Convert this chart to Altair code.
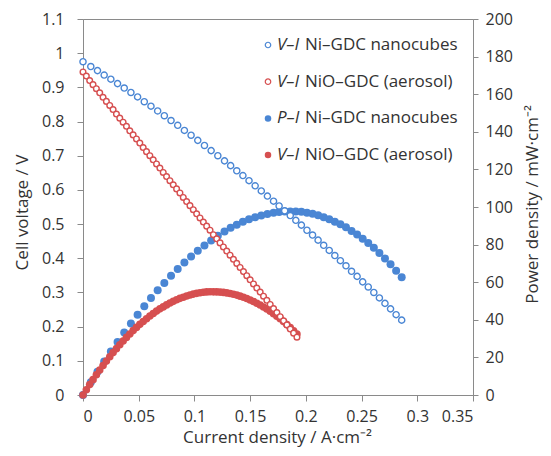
import altair as alt
import pandas as pd

# ---- data ----
# Ni-GDC nanocubes: current density (A/cm2), cell voltage (V), power density (mW/cm2)
blue_i = [0, 0.007, 0.013, 0.019, 0.025, 0.031, 0.037, 0.043, 0.049, 0.055, 0.061, 0.067,
          0.073, 0.079, 0.085, 0.091, 0.097, 0.103, 0.109, 0.115, 0.121, 0.127, 0.1325,
          0.138, 0.1435, 0.149, 0.1545, 0.16, 0.1655, 0.171, 0.176, 0.181, 0.186, 0.191,
          0.196, 0.201, 0.206, 0.211, 0.216, 0.221, 0.226, 0.231, 0.236, 0.241, 0.246,
          0.251, 0.256, 0.261, 0.266, 0.271, 0.276, 0.281, 0.286]
blue_v = [0.975, 0.961, 0.949, 0.936, 0.924, 0.911, 0.898, 0.885, 0.872, 0.858, 0.845, 0.831,
          0.817, 0.803, 0.789, 0.774, 0.760, 0.745, 0.730, 0.715, 0.700, 0.685, 0.671,
          0.656, 0.642, 0.627, 0.612, 0.597, 0.582, 0.567, 0.553, 0.539, 0.525, 0.511,
          0.497, 0.482, 0.468, 0.453, 0.438, 0.423, 0.408, 0.393, 0.378, 0.362, 0.347,
          0.331, 0.316, 0.300, 0.284, 0.268, 0.252, 0.235, 0.219]
blue_p = [0, 6.73, 12.34, 17.78, 23.10, 28.24, 33.23, 38.06, 42.73, 47.19, 51.55, 55.68,
          59.64, 63.44, 67.07, 70.43, 73.72, 76.74, 79.57, 82.23, 84.70, 87.00, 88.91,
          90.53, 92.13, 93.42, 94.55, 95.52, 96.32, 96.96, 97.33, 97.56, 97.65, 97.60,
          97.41, 96.88, 96.41, 95.58, 94.61, 93.48, 92.21, 90.78, 89.21, 87.24, 85.36,
          83.08, 80.90, 78.30, 75.54, 72.63, 69.55, 66.04, 62.63]

# NiO-GDC (aerosol)
red_i = [0, 0.003, 0.006, 0.009, 0.012, 0.015, 0.018, 0.021, 0.024, 0.027, 0.030, 0.033,
         0.036, 0.039, 0.042, 0.045, 0.048, 0.051, 0.054, 0.057, 0.060, 0.063, 0.066,
         0.069, 0.072, 0.075, 0.078, 0.081, 0.084, 0.087, 0.090, 0.093, 0.096, 0.099,
         0.102, 0.105, 0.108, 0.111, 0.114, 0.117, 0.120, 0.123, 0.126, 0.129, 0.132,
         0.135, 0.138, 0.141, 0.144, 0.147, 0.150, 0.153, 0.156, 0.159, 0.162, 0.165,
         0.168, 0.171, 0.174, 0.177, 0.180, 0.183, 0.186, 0.189, 0.192]
red_v = [0.945, 0.933, 0.920, 0.908, 0.896, 0.884, 0.871, 0.859, 0.847, 0.835, 0.822, 0.810,
         0.798, 0.786, 0.773, 0.761, 0.749, 0.737, 0.724, 0.712, 0.700, 0.688, 0.676,
         0.664, 0.651, 0.639, 0.627, 0.615, 0.603, 0.591, 0.578, 0.566, 0.554, 0.542,
         0.530, 0.518, 0.506, 0.494, 0.482, 0.469, 0.457, 0.445, 0.433, 0.421, 0.409,
         0.397, 0.385, 0.373, 0.361, 0.349, 0.337, 0.325, 0.313, 0.301, 0.289, 0.277,
         0.265, 0.253, 0.241, 0.229, 0.217, 0.205, 0.193, 0.181, 0.169]
red_p = [0, 2.80, 5.52, 8.17, 10.75, 13.26, 15.68, 18.04, 20.33, 22.55, 24.66, 26.73,
         28.73, 30.65, 32.47, 34.25, 35.95, 37.59, 39.10, 40.58, 42.00, 43.34, 44.62,
         45.82, 46.87, 47.93, 48.91, 49.82, 50.65, 51.42, 52.02, 52.64, 53.18, 53.66,
         54.06, 54.39, 54.65, 54.83, 54.95, 54.87, 54.84, 54.74, 54.56, 54.31, 53.99,
         53.60, 53.13, 52.59, 51.98, 51.30, 50.55, 49.73, 48.83, 47.86, 46.82, 45.71,
         44.52, 43.26, 41.93, 40.53, 39.06, 37.52, 35.90, 34.21, 32.45]

x_ticks = [0, 0.05, 0.1, 0.15, 0.2, 0.25, 0.3, 0.35]
yl_ticks = [0, 0.1, 0.2, 0.3, 0.4, 0.5, 0.6, 0.7, 0.8, 0.9, 1.0, 1.1]
yr_ticks = [0, 20, 40, 60, 80, 100, 120, 140, 160, 180, 200]

legend_italic = ["V–I", "V–I", "P–I", "V–I"]
legend_rest = ["Ni–GDC nanocubes", "NiO–GDC (aerosol)", "Ni–GDC nanocubes", "NiO–GDC (aerosol)"]

BLUE = "#4a86d4"
RED = "#d64f50"
GREY = "#8a8a8a"
TXT = "#333333"
FONT = "Open Sans"

blue = pd.DataFrame({"I": blue_i, "V": blue_v, "P": blue_p})
red = pd.DataFrame({"I": red_i, "V": red_v, "P": red_p})

W, H = 390, 376

x_enc = alt.X("I:Q", scale=alt.Scale(domain=[0, 0.35], nice=False),
              axis=alt.Axis(values=x_ticks, format=".2~f", grid=False, tickSize=6,
                            labelPadding=7, title="Current density / A·cm⁻²",
                            titleX=194, titleY=47, titleBaseline="alphabetic",
                            titleAlign="center"))

left_axis = alt.Axis(values=yl_ticks, format=".1~f", grid=False, tickSize=6, labelPadding=13,
                     title="Cell voltage / V", titleAngle=270, titleX=-56, titleY=193,
                     titleAlign="center", titleBaseline="alphabetic", orient="left")
right_axis = alt.Axis(values=yr_ticks, grid=False, tickSize=5, labelPadding=7,
                      title="Power density / mW·cm⁻²", titleAngle=270, titleX=64, titleY=185,
                      titleAlign="center", titleBaseline="alphabetic", orient="right")

yl = alt.Y("V:Q", scale=alt.Scale(domain=[0, 1.1], nice=False), axis=left_axis)
yr = alt.Y("P:Q", scale=alt.Scale(domain=[0, 200], nice=False), axis=right_axis)

blue_p_layer = alt.Chart(blue).mark_point(shape="circle", filled=True, color=BLUE,
                                          size=64, opacity=1).encode(x=x_enc, y=yr)
red_p_layer = alt.Chart(red).mark_point(shape="circle", filled=True, color=RED,
                                        size=58, opacity=1).encode(x=x_enc, y=yr)
blue_v_layer = alt.Chart(blue).mark_point(shape="circle", filled=True, fill="white",
                                          stroke=BLUE, strokeWidth=1.4, size=38,
                                          opacity=1).encode(x=x_enc, y=yl)
red_v_layer = alt.Chart(red).mark_point(shape="circle", filled=True, fill="white",
                                        stroke=RED, strokeWidth=1.4, size=32,
                                        opacity=1).encode(x=x_enc, y=yl)

right_layer = alt.layer(blue_p_layer, red_p_layer)
left_layer = alt.layer(blue_v_layer, red_v_layer)

# manual legend (mixed italic text)
one = pd.DataFrame({"k": [0]})
leg_layers = []
leg_colors = [BLUE, RED, BLUE, RED]
leg_open = [True, True, False, False]
for i in range(4):
    yy = 26 + 36.7 * i
    if leg_open[i]:
        sym = alt.Chart(one).mark_point(shape="circle", filled=True, fill="white",
                                        stroke=leg_colors[i], strokeWidth=1.2, size=30,
                                        opacity=1)
    else:
        sym = alt.Chart(one).mark_point(shape="circle", filled=True, color=leg_colors[i],
                                        size=42, opacity=1)
    leg_layers.append(sym.encode(x=alt.value(185), y=alt.value(yy)))
    leg_layers.append(alt.Chart(one).mark_text(text=legend_italic[i], font=FONT, fontSize=17,
                                               fontStyle="italic", align="left",
                                               baseline="middle", color=TXT)
                      .encode(x=alt.value(194), y=alt.value(yy)))
    leg_layers.append(alt.Chart(one).mark_text(text=legend_rest[i], font=FONT, fontSize=17,
                                               align="left", baseline="middle", color=TXT)
                      .encode(x=alt.value(222), y=alt.value(yy)))

chart = alt.layer(right_layer, left_layer, *leg_layers).resolve_scale(
    y="independent"
).properties(
    width=W, height=H,
    autosize=alt.AutoSizeParams(type="none"),
    padding={"left": 75, "top": 11, "right": 70, "bottom": 53},
    background="white",
).configure_view(
    stroke=GREY, strokeWidth=1
).configure_axis(
    domainColor=GREY, tickColor=GREY, labelFont=FONT, labelFontSize=16, labelColor=TXT,
    titleFont=FONT, titleFontSize=17, titleColor=TXT, titleFontWeight="normal"
)

chart.save("out.html", embed_options={"renderer": "svg", "actions": False})
